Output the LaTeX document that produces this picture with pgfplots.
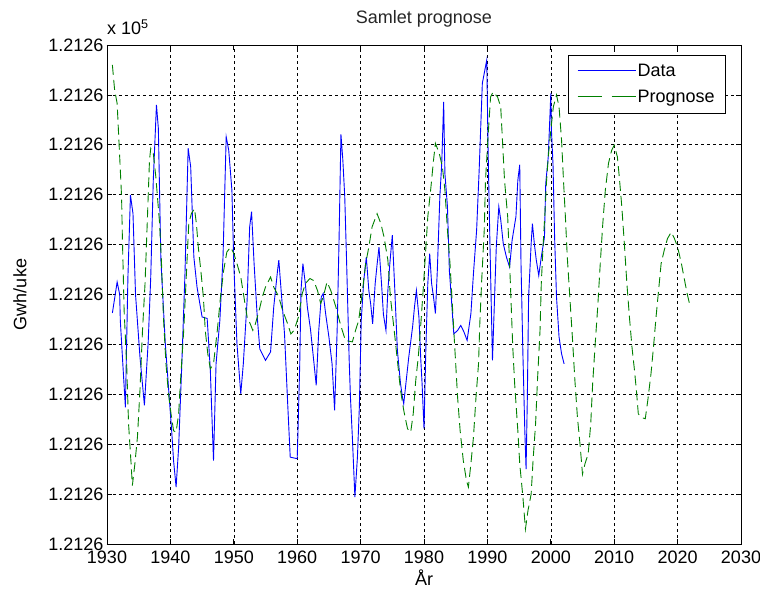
\documentclass[border=0pt]{standalone}
\usepackage{fontspec}
\setmainfont{Liberation Sans}
\usepackage{pgfplots}
\pgfplotsset{compat=1.18}
\definecolor{mblue}{RGB}{0,0,255}
\definecolor{mgreen}{RGB}{0,128,0}
\newcommand{\fs}{\fontsize{18bp}{21bp}\selectfont}
\pgfplotsset{
  legsolid/.style={legend image code/.code={\node[anchor=west, inner sep=0pt] at (0bp,0bp) {\textcolor{mblue}{\rule[-0.45bp]{58bp}{0.9bp}}\hspace{6bp}};}},
  legdash/.style={legend image code/.code={\node[anchor=west, inner sep=0pt] at (0bp,0bp) {\textcolor{mgreen}{\rule[-0.45bp]{24bp}{0.9bp}\hspace{10bp}\rule[-0.45bp]{24bp}{0.9bp}}\hspace{6bp}};}},
}
\begin{document}
\begin{tikzpicture}
\begin{axis}[
  scale only axis,
  width=634bp, height=499bp,
  xmin=1930, xmax=2030, ymin=0, ymax=10,
  xtick={1930,1940,...,2030},
  ytick={0,1,...,10},
  yticklabels={1.2126,1.2126,1.2126,1.2126,1.2126,1.2126,1.2126,1.2126,1.2126,1.2126,1.2126},
  /pgf/number format/1000 sep={},
  /pgf/number format/assume math mode=true,
  tick label style={font=\fs, black},
  xticklabel style={yshift=-3bp},
  tick align=inside,
  major tick length=5bp,
  tick style={black, line width=0.7bp},
  axis line style={black, line width=0.9bp},
  grid=major,
  major grid style={black, line width=0.6bp, dash pattern=on 3bp off 3bp},
  title={Samlet prognose},
  title style={font=\fs, color=black!85, at={(axis description cs:0.5,1.032)}, anchor=base},
  xlabel={År},
  xlabel style={font=\fs, at={(axis description cs:0.5,-0.068)}, anchor=center},
  ylabel={Gwh/uke},
  ylabel style={font=\fs, at={(axis description cs:-0.1372,0.5)}, anchor=center},
  legend style={font=\fs, at={(0.9763,0.98)}, anchor=north east, draw=black, line width=0.7bp,
     fill=white, inner xsep=9bp, inner ysep=7bp, row sep=8bp, cells={anchor=west}},
]
\addplot[mblue, line width=0.9bp, legsolid] coordinates {
(1930.85,4.63) (1931.6,5.25) (1932.0,5.0) (1932.1,4.48) (1932.5,3.6) (1932.9,2.74) (1933.3,5.35) (1933.7,6.99) (1934.1,6.62) (1934.5,5.0) (1935.2,3.75) (1935.9,2.78) (1936.5,4.05) (1936.9,5.35) (1937.3,7.29) (1937.8,8.80) (1938.1,8.33) (1938.5,5.69) (1939.2,4.01) (1939.7,3.14) (1940.2,2.27) (1940.5,1.67) (1940.9,1.14) (1941.3,1.94) (1941.8,3.61) (1942.3,5.42) (1942.8,7.93) (1943.2,7.56) (1943.7,5.75) (1944.2,5.15) (1945.0,4.55) (1945.8,4.52) (1946.3,3.48) (1946.5,2.74) (1946.8,1.67) (1947.2,3.61) (1947.8,4.48) (1948.3,5.75) (1948.8,8.16) (1949.2,7.89) (1949.7,7.09) (1950.0,5.62) (1950.5,4.01) (1951.1,3.01) (1951.5,3.61) (1952.1,4.88) (1952.5,6.35) (1952.8,6.66) (1953.2,5.62) (1953.7,4.55) (1954.1,3.91) (1955.0,3.68) (1955.8,3.85) (1956.3,4.75) (1956.9,5.48) (1957.1,5.69) (1957.5,5.02) (1958.0,4.21) (1958.5,2.81) (1958.9,1.74) (1960.0,1.71) (1960.1,2.14) (1960.4,3.6) (1960.6,5.08) (1960.9,5.62) (1961.3,5.2) (1961.6,4.75) (1962.1,4.3) (1962.6,3.68) (1963.0,3.18) (1963.4,4.28) (1963.8,4.95) (1964.1,5.02) (1964.5,4.6) (1965.0,4.15) (1965.5,3.61) (1965.9,2.68) (1966.3,4.28) (1966.6,6.09) (1966.9,8.21) (1967.2,7.69) (1967.5,6.96) (1967.8,5.62) (1968.2,3.68) (1968.4,2.94) (1968.7,2.14) (1969.1,0.94) (1969.5,1.74) (1969.8,2.74) (1970.1,4.48) (1970.5,5.28) (1970.9,5.75) (1971.3,5.08) (1971.6,4.8) (1971.9,4.41) (1972.3,5.22) (1972.6,5.6) (1972.9,5.95) (1973.3,5.22) (1973.6,4.6) (1974.0,4.28) (1974.3,5.08) (1974.6,5.6) (1975.0,6.19) (1975.4,5.08) (1975.8,3.88) (1976.3,3.21) (1976.6,2.94) (1976.8,2.81) (1977.2,3.28) (1977.6,3.75) (1978.2,4.35) (1978.5,4.75) (1978.8,5.08) (1979.2,4.55) (1979.5,3.68) (1979.7,3.21) (1980.0,2.31) (1980.3,3.95) (1980.6,5.22) (1980.9,5.82) (1981.2,5.22) (1981.5,4.95) (1981.8,4.62) (1982.1,5.48) (1982.5,6.96) (1982.8,7.63) (1983.1,8.86) (1983.3,7.42) (1983.7,6.76) (1984.0,5.48) (1984.3,4.95) (1984.7,4.21) (1985.3,4.28) (1985.8,4.38) (1986.3,4.25) (1986.8,4.08) (1987.4,4.62) (1987.8,5.42) (1988.3,6.29) (1988.7,7.49) (1989.2,9.23) (1989.6,9.50) (1989.9,9.70) (1990.1,7.96) (1990.4,6.02) (1990.8,3.68) (1991.1,4.82) (1991.4,5.95) (1991.8,6.76) (1992.1,6.5) (1992.5,6.02) (1993.0,5.75) (1993.5,5.55) (1993.9,6.09) (1994.5,6.56) (1994.8,7.29) (1995.1,7.6) (1995.3,5.62) (1995.6,3.81) (1995.9,2.27) (1996.1,1.5) (1996.3,2.94) (1996.5,4.95) (1996.9,6.02) (1997.1,6.42) (1997.4,6.02) (1997.7,5.7) (1998.1,5.38) (1998.5,5.75) (1999.0,6.15) (1999.2,7.22) (1999.6,7.76) (1999.9,8.70) (2000.0,9.03) (2000.1,8.29) (2000.35,7.6) (2000.6,6.15) (2000.9,4.95) (2001.3,4.15) (2001.7,3.81) (2002.1,3.61)
};
\addlegendentry{Data}
\addplot[mgreen, line width=0.9bp, dash pattern=on 10bp off 5bp, legdash] coordinates {
(1930.85,9.60) (1931.2,9.1) (1931.6,8.83) (1931.9,8.03) (1932.3,6.96) (1932.4,6.29) (1932.7,4.68) (1933.1,3.61) (1933.4,2.41) (1933.8,1.61) (1934.0,1.17) (1934.4,1.61) (1934.8,2.14) (1935.2,3.08) (1935.6,4.28) (1936.0,5.22) (1936.4,6.62) (1936.7,7.69) (1936.9,7.93) (1937.3,7.83) (1937.7,7.36) (1938.3,6.42) (1938.6,5.62) (1938.9,4.55) (1939.3,3.61) (1939.7,3.01) (1940.1,2.61) (1940.5,2.27) (1940.9,2.24) (1941.3,2.61) (1941.6,3.28) (1942.1,4.28) (1942.5,5.35) (1942.9,6.42) (1943.3,6.62) (1943.8,6.72) (1944.1,6.42) (1944.4,5.95) (1944.8,5.48) (1945.2,4.95) (1945.5,4.28) (1945.9,3.81) (1946.3,3.51) (1946.8,3.61) (1947.4,4.28) (1947.9,4.95) (1948.4,5.48) (1948.9,5.85) (1949.5,5.95) (1950.0,5.82) (1950.5,5.62) (1951.1,5.35) (1951.6,4.95) (1952.1,4.55) (1952.6,4.41) (1953.0,4.28) (1953.4,4.41) (1954.0,4.68) (1954.5,4.95) (1955.0,5.15) (1955.8,5.35) (1956.3,5.15) (1957.1,4.95) (1957.7,4.68) (1958.5,4.41) (1959.0,4.21) (1959.5,4.28) (1960.2,4.55) (1960.8,5.02) (1961.3,5.22) (1962.0,5.32) (1962.6,5.28) (1963.2,5.08) (1963.7,4.82) (1964.1,4.95) (1964.7,5.25) (1965.3,5.08) (1966.1,4.75) (1966.8,4.41) (1967.6,4.08) (1968.7,4.05) (1969.2,4.28) (1969.7,4.48) (1970.3,5.08) (1970.8,5.62) (1971.3,5.95) (1971.8,6.35) (1972.6,6.62) (1973.2,6.42) (1973.7,6.15) (1974.3,5.69) (1974.7,4.95) (1975.3,4.28) (1975.8,3.68) (1976.3,3.08) (1976.8,2.68) (1977.4,2.31) (1977.9,2.24) (1978.3,2.61) (1978.7,3.28) (1979.1,3.75) (1979.5,4.41) (1979.9,5.15) (1980.3,5.95) (1980.6,6.56) (1981.1,7.16) (1981.5,7.69) (1981.8,8.03) (1982.4,7.83) (1982.9,7.56) (1983.3,7.09) (1983.7,6.29) (1984.1,5.62) (1984.4,4.95) (1984.7,4.28) (1985.0,3.61) (1985.3,2.94) (1985.7,2.27) (1986.2,1.67) (1986.7,1.27) (1987.0,1.14) (1987.4,1.61) (1987.8,2.14) (1988.2,2.94) (1988.6,3.61) (1988.8,4.41) (1989.1,5.28) (1989.5,6.29) (1989.7,7.29) (1990.1,8.16) (1990.5,8.96) (1990.9,9.06) (1991.6,8.96) (1992.1,8.76) (1992.4,8.03) (1992.7,7.29) (1993.2,6.56) (1993.6,5.3) (1994.0,3.95) (1994.3,3.21) (1994.8,2.27) (1995.1,1.61) (1995.6,0.94) (1996.0,0.30) (1996.4,0.67) (1996.9,1.0) (1997.2,1.67) (1997.6,2.41) (1997.9,3.28) (1998.3,4.28) (1998.5,5.22) (1998.8,6.02) (1999.1,6.69) (1999.3,7.22) (1999.6,7.76) (2000.0,8.29) (2000.4,8.76) (2000.9,9.0) (2001.3,8.76) (2001.7,8.09) (2002.0,7.29) (2002.3,6.56) (2002.6,5.75) (2003.0,4.95) (2003.4,4.15) (2003.8,3.28) (2004.2,2.54) (2004.6,2.01) (2005.0,1.40) (2005.4,1.61) (2005.9,1.81) (2006.3,2.41) (2006.6,3.21) (2007.0,4.01) (2007.4,4.75) (2007.8,5.62) (2008.2,6.42) (2008.6,7.09) (2009.1,7.63) (2009.6,7.89) (2010.0,7.99) (2010.5,7.76) (2010.8,7.36) (2011.2,6.76) (2011.6,6.02) (2012.0,5.22) (2012.4,4.55) (2012.8,3.95) (2013.2,3.48) (2013.5,3.08) (2013.8,2.61) (2014.2,2.54) (2014.9,2.51) (2015.3,2.88) (2015.8,3.41) (2016.2,3.95) (2016.6,4.55) (2017.0,5.08) (2017.4,5.62) (2017.9,5.89) (2018.4,6.12) (2019.0,6.25) (2019.5,6.12) (2020.0,5.95) (2020.6,5.62) (2021.0,5.35) (2021.5,5.02) (2022.0,4.75)
};
\addlegendentry{Prognose}
\coordinate (SW) at (rel axis cs:0,0);
\coordinate (NE) at (rel axis cs:1,1);
\coordinate (NW) at (rel axis cs:0,1);
\end{axis}
\node[font=\fs, anchor=base west, inner sep=0pt] at ([yshift=10bp]NW) {x 10\textsuperscript{5}};
\pgfresetboundingbox
\path ([shift={(-107bp,-46bp)}]SW) rectangle ([shift={(19bp,45bp)}]NE);
\end{tikzpicture}
\end{document}
